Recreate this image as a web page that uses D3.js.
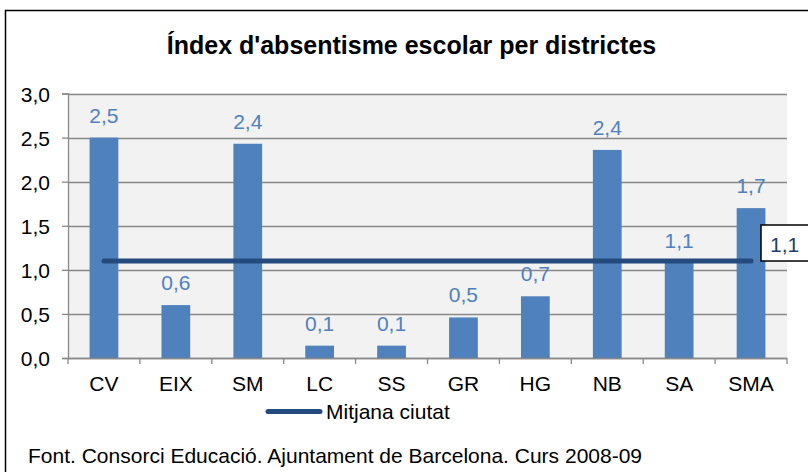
<!DOCTYPE html>
<html><head><meta charset="utf-8">
<script src="https://cdn.jsdelivr.net/npm/d3@7"></script>
<style>body{margin:0;background:#fff}svg{display:block}</style>
</head><body>
<script>
const categories = ["CV","EIX","SM","LC","SS","GR","HG","NB","SA","SMA"];
const values = [2.5,0.6,2.43,0.14,0.14,0.46,0.7,2.36,1.08,1.7];
const labels = ["2,5","0,6","2,4","0,1","0,1","0,5","0,7","2,4","1,1","1,7"];
const average = 1.1;
const averageLabel = "1,1";
const yTicks = [0,0.5,1,1.5,2,2.5,3];
const title = "Índex d'absentisme escolar per districtes";
const legendLabel = "Mitjana ciutat";
const source = "Font. Consorci Educació. Ajuntament de Barcelona. Curs 2008-09";

const W = 808, H = 472;
const svg = d3.select("body").append("svg").attr("width", W).attr("height", H);
const font = "Liberation Sans, Arial, sans-serif";
const FS = 21;

// outer frame
svg.append("rect").attr("x",5.5).attr("y",10.5).attr("width",840).attr("height",480)
  .attr("fill","#fff").attr("stroke","#000").attr("stroke-width",1.5);

const L = 68, R = 787, T = 93.5, B = 358;
const x = d3.scaleBand().domain(categories).range([L, R]).paddingInner(0.6).paddingOuter(0.3);
const xc = d3.scaleBand().domain(categories).range([L, R]);
const y = d3.scaleLinear().domain([0,3]).range([B, T]);

svg.append("rect").attr("x",L).attr("y",T).attr("width",R-L).attr("height",B-T).attr("fill","#F2F2F2");

// grid
svg.append("g").selectAll("line").data(yTicks).join("line")
  .attr("x1",L).attr("x2",R).attr("y1",d=>Math.round(y(d))+0.5).attr("y2",d=>Math.round(y(d))+0.5)
  .attr("stroke","#888").attr("stroke-width",1.3);

// y axis
const yAxis = svg.append("g").attr("transform",`translate(${L},0)`)
  .call(d3.axisLeft(y).tickValues(yTicks).tickSize(6).tickPadding(12).tickFormat(d=>d3.format(".1f")(d).replace(".",",")));
yAxis.select(".domain").attr("stroke","#888").attr("stroke-width",1.3);
yAxis.selectAll(".tick line").attr("stroke","#888").attr("stroke-width",1.3);
yAxis.selectAll("text").attr("font-family",font).attr("font-size",FS).attr("fill","#000").attr("dy","0.36em");

// bars
svg.append("g").selectAll("rect").data(values).join("rect")
  .attr("x",(d,i)=>x(categories[i])).attr("width",x.bandwidth())
  .attr("y",d=>y(d)).attr("height",d=>B-y(d)).attr("fill","#4F81BD");

// x axis
const bounds = categories.map(c=>xc(c)).concat([R]);
svg.append("line").attr("x1",L).attr("x2",R).attr("y1",B+0.5).attr("y2",B+0.5).attr("stroke","#888").attr("stroke-width",1.3);
svg.append("g").selectAll("line").data(bounds).join("line")
  .attr("x1",d=>d).attr("x2",d=>d).attr("y1",B).attr("y2",B+6).attr("stroke","#888").attr("stroke-width",1.3);
svg.append("g").selectAll("text").data(categories).join("text")
  .attr("x",d=>xc(d)+xc.bandwidth()/2).attr("y",391).attr("text-anchor","middle")
  .attr("font-family",font).attr("font-size",FS).attr("fill","#000").text(d=>d);

// data labels
svg.append("g").selectAll("text").data(values).join("text")
  .attr("x",(d,i)=>xc(categories[i])+xc.bandwidth()/2).attr("y",d=>y(d)-15).attr("text-anchor","middle")
  .attr("font-family",font).attr("font-size",FS).attr("fill","#4F81BD").text((d,i)=>labels[i]);

// average line
const x0 = xc(categories[0])+xc.bandwidth()/2, x1 = xc(categories[categories.length-1])+xc.bandwidth()/2;
svg.append("line").attr("x1",x0).attr("x2",x1).attr("y1",y(average)).attr("y2",y(average))
  .attr("stroke","#254B7E").attr("stroke-width",5).attr("stroke-linecap","round");

// average label box
svg.append("rect").attr("x",761).attr("y",225).attr("width",60).attr("height",y(average)-225)
  .attr("fill","#fff").attr("stroke","#000").attr("stroke-width",1.5);
svg.append("text").attr("x",770).attr("y",252).attr("font-family",font).attr("font-size",FS)
  .attr("fill","#1F3F6E").text(averageLabel);

// title
svg.append("text").attr("x",411.5).attr("y",54).attr("text-anchor","middle")
  .attr("font-family",font).attr("font-size",25).attr("font-weight","bold").attr("fill","#000").text(title);

// legend
svg.append("line").attr("x1",268).attr("x2",320).attr("y1",411.5).attr("y2",411.5)
  .attr("stroke","#254B7E").attr("stroke-width",5).attr("stroke-linecap","round");
svg.append("text").attr("x",326).attr("y",419).attr("font-family",font).attr("font-size",FS).attr("fill","#000").text(legendLabel);

// source
svg.append("text").attr("x",28).attr("y",463).attr("font-family",font).attr("font-size",FS).attr("fill","#000").text(source);
</script>
</body></html>
